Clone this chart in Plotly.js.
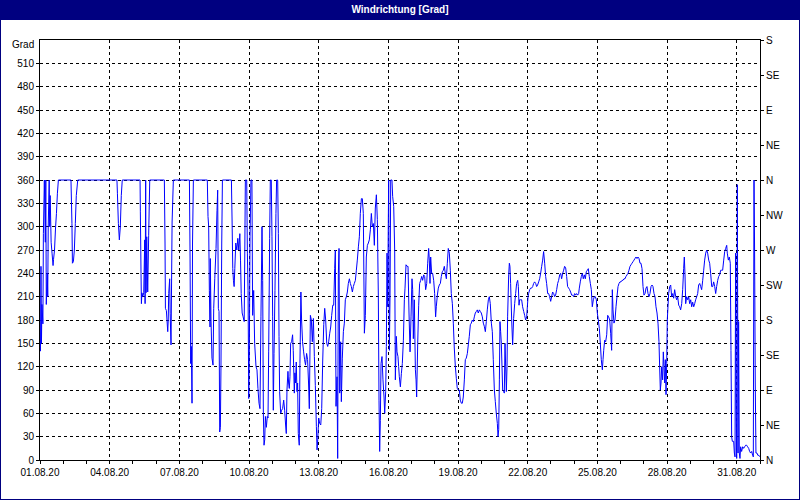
<!DOCTYPE html>
<html><head><meta charset="utf-8">
<script src="https://cdn.plot.ly/plotly-3.0.1.min.js"></script>
<style>
html,body{margin:0;padding:0;background:#fff;}
#wrap{position:relative;width:800px;height:500px;}
#chart{position:absolute;left:0;top:0;width:800px;height:500px;}
#frame{position:absolute;left:0;top:0;width:800px;height:500px;box-sizing:border-box;border:1px solid #000080;pointer-events:none;}
</style></head>
<body><div id="wrap"><div id="chart"></div><div id="frame"></div></div>
<script>
// hours since 01.08.2020 00:00 and wind direction in degrees
const hoursA = [0,0.5,1,1.5,2,3,3.5,4.5,5.5,6,6.5,7.5,8,8.5,9.5,10,10.5,11.5,12.5,13.5,14,15,16,17,18,19,32,33,33.5,34.5,35.5,36.5,37.5,39,79.5,80,81,82,83,84,85];
const degA   = [150,140,249,150,200,175,291,360,280,360,200,240,210,300,360,300,340,280,265,250,258,270,297,317,343,360,360,304,253,255,270,304,340,360,360,343,304,283,300,340,360];

const hoursB = [103.4,103.7,104.4,104.8,105.3,106.2,107.2,108.2,108.6,109.2,109.6,110.3,111.3,112.3,113.4,128.5,129.2,129.6,130.6,132,132.5,133,134,134.5,135.4,136.5,137.8,154.4,155,155.7,156.4,157.1,157.6,158.5,172.9,173.6,174.3,175,175.7,176,176.7,177.7,178.8,179.5,180.6,181.9,182.9,183.6,184.3];
const degB   = [360,319,240,201,215,210,215,283,201,360,215,287,216,289,360,360,279,195,192,165,180,214,233,188,148,306,360,360,270,124,146,73,279,360,360,313,300,218,171,259,180,131,122,195,233,272,321,347,195];

const hoursC = [185,185.7,186.4,187,187.8,188.5,197.8,198.5,199.2,199.9,
  200.6,201.3,202.3,203.4,204.4,205.4,206.5,207.2,207.9,208.9,
  209.9,211,211.7,212.2,213.6,214.3,215,215.7,216.4,217,
  218,219,219.7,220.8,221.8,223.2,224.2,225.2,226.3,227.3,
  228.3,229.4,230.1,230.8,231.5,232.2,232.9,233.9,234.9,235.6,
  236.3,237.3,238,239,239.7,240.4,241.1,241.8,242.8,243.8,
  244.5,245.6,246.3,247,247.6,248.7,249.7,250.7,251.8,252.8,
  253.8,254.5,255.2,256.2,256.9,257.6,258.3,259,260,261,
  261.7,262.8,263.4,264.1,264.8,265.5,266.2,266.9,267.9,268.6,
  269.6,270.3,271.3,272.4,273.4,274.4,275.5,276.5,277.5];
const degC = [191,36,42,120,279,360,360,306,246,231,
  223,246,279,270,285,270,291,257,214,189,
  184,178,279,360,360,266,218,79,150,287,
  360,360,186,218,150,120,116,92,73,66,
  184,300,231,60,19,26,56,42,56,54,
  139,285,360,360,287,184,64,137,218,317,
  360,360,291,159,88,60,64,66,77,64,
  45,34,90,114,99,92,107,150,152,161,
  141,86,112,99,126,88,99,34,19,124,
  216,180,152,139,129,122,137,129,99];

const hoursD = [278.3,279.4,280.4,281.4,282.5,283.5,284.5,285.6,286.3,287,
  288,289,290.1,291.1,292.1,293.2,294.2,295.2,296.3,297.3,
  298.3,299.4,300.4,301.4,302.5,303.5,304.5,305.2,305.9,306.9,
  307.6,308.3,309,309.7,310.7,311.4,312.4,313.5,314.5,315.5,
  316.6,317.6,318.6,319.7,320.7,321.7,322.8,323.8,324.8,325.9,
  326.9,327.9,329,330,331,332.1,333.1,334.1,335.2,336.2,
  337.2,338.3,339.3,340.3,341.4,342.4,343.4,344.5,345.5,346.5,
  347.6,348.6,349.6,350.3,351,351.7,352.4,353.4,354.4,355.5,
  356.2,357.2,357.9,358.6,359.3,359.9,360.3,361,361.7,362.4,
  363.7,364.4,365.5,366.5,367.2,368.2,368.9,369.9,370.6];
const degD = [66,186,180,152,182,133,96,43,13,26,
  54,47,45,66,126,174,195,180,150,146,
  152,163,171,186,199,199,246,270,69,107,
  2,240,272,86,152,75,131,165,176,206,
  210,216,227,233,227,223,216,223,227,231,
  244,257,274,287,317,336,336,317,163,186,
  261,276,279,283,296,317,300,304,276,324,
  341,309,212,77,11,51,124,133,103,81,
  60,88,146,266,197,304,360,141,210,360,
  360,339,326,270,103,159,139,133,120];

const hoursE = [371.3,372.4,373.4,374.4,375.5,376.5,377.2,378.2,379.3,380.3,
  381.3,382.4,383.4,384.4,385.1,385.8,386.8,387.9,388.6,389.2,
  390.3,391.3,392.3,393.4,394.4,395.4,396.5,397.5,398.5,399.6,
  400.6,401.6,402.3,403,403.7,404.7,405.7,406.8,407.8,408.8,
  409.5,410.6,411.6,412.6,413.7,414.7,415.7,416.8,417.8,418.8,
  419.9,420.9,421.9,423,424,425,426.1,427.1,428.1,429.2,
  430.2,431.2,432.3,433.3,434.3,435.4,436.4,437.4,438.5,439.5,
  440.5,441.6,442.6,443.6,444.7,445.7,446.7,447.8,448.8,449.8,
  450.9,451.9,452.9,454,455,456,457.1,458.1,459.1,460.2,
  461.2,462.2,463.3,464.3];
const degE = [107,94,111,124,154,206,221,251,249,249,
  189,139,184,233,219,156,206,116,103,81,
  150,199,227,231,236,231,238,236,219,227,
  253,272,257,227,261,240,240,231,214,184,
  197,212,221,225,227,236,242,244,249,240,
  233,253,272,266,244,214,201,176,144,120,
  105,92,90,90,77,73,73,81,103,129,
  131,137,148,159,174,176,180,178,184,189,
  191,193,189,193,191,189,184,176,172,165,
  178,193,206,210];

const hoursF = [465.3,466.4,467.4,468.4,469.5,470.5,471.5,472.6,473.3,474,
  474.7,475.3,476,476.7,477.4,478.1,479.1,479.8,480.5,481.2,
  481.9,482.6,483.2,484.3,485,485.6,486.3,487.4,488.4,489.4,
  490.5,491.5,492.5,493.6,494.3,495,495.6,496.7,497.7,498.7,
  499.8,500.8,501.8,502.9,503.6,504.3,504.9,506,507,508,
  509.1,510.1,511.1,512.2,513.2,514.2,515.3,516.3,517.3,518.4,
  519.4,520.4,521.5,522.5,523.5,524.6,525.6,526.6,527.7,528.7,
  529.7,530.8,531.8,532.8,533.9,534.9,535.9,537,538,539,
  540.1,541.1,542.1,543.2,544.2,545.2,546.3,547.3,548.3,549.4,
  550.4,551.4,552.5,553.5,554.5,555.6,556.6];
const degF = [201,176,165,129,90,75,60,47,30,39,
  103,178,165,150,120,90,88,86,150,120,
  88,120,184,238,253,249,227,180,148,182,
  201,214,227,231,223,199,206,206,206,197,
  191,186,180,184,197,210,214,219,221,221,
  223,227,229,227,223,225,229,233,240,249,
  257,268,253,236,227,214,214,210,204,210,
  216,214,210,212,219,227,231,238,240,233,
  240,244,249,247,236,223,221,219,216,212,
  212,210,214,212,214,212,214];

const hoursG = [557.3,558.3,559.4,560.4,561.4,562.5,563.5,564.5,565.6,566.6,
  567.6,568.7,569.7,570.7,571.8,572.8,573.8,574.9,575.9,576.9,
  578,579,580,581.1,581.8,582.5,583.5,584.5,585.6,586.6,
  587.6,588.7,589.7,590.7,591.4,592.1,593.1,594.2,595.2,596.2,
  597.3,598.3,599.3,600.4,601.4,602.4,603.5,604.5,605.5,606.6,
  607.6,608.6,609.7,610.7,611.7,612.8,613.8,614.8,615.9,616.9,
  617.9,619,620,621,622.1,623.1,624.1,625.2,626.2,627.2,
  628.3,629.3,630.3,631.4,632.4,633.4,634.5,635.5,636.5,637.6,
  638.6,639.6,640.3,641,641.7,642.4,643.4,644.1,644.8,645.5,
  646.2,646.9,647.6,648.2];
const degG = [221,229,236,240,233,238,233,242,244,246,
  236,227,219,197,206,210,210,206,189,180,
  169,150,129,116,129,141,154,152,161,186,
  184,180,163,141,219,193,176,180,197,210,
  223,227,229,229,231,231,233,233,236,238,
  240,244,249,251,253,255,257,259,261,259,
  261,259,253,253,246,223,212,214,221,223,
  214,210,214,223,225,223,214,210,197,189,
  176,152,120,90,99,120,103,139,120,99,
  129,84,124,180];

const hoursH = [649.6,650.7,651.7,652.7,653.8,654.8,655.8,656.9,657.9,658.9,
  660,661,662,663.1,664.1,665.1,665.8,666.5,667.2,668.2,
  669.3,670.3,671.3,672.4,673.4,674.4,675.5,676.5,677.5,678.6,
  679.6,680.6,681.7,682.7,683.7,684.8,685.8,686.8,687.9,688.9,
  689.9,691,692,693,694.1,695.1,696.1,697.2,698.2,699.2,
  700.3,701.3,702.3,703.4,704.4,705.4,706.5,707.5,708.5,709.6,
  710.2,711.3,712.3,713.3,714,714.7,715.4,716.1,716.8,717.5,
  718.2,718.8,719.2,719.9,720.6,721.3,721.9,722.6,723.3,724,
  725,726.1,727.1,728.1,729.2,730.2,731.2,732.3,733.3,734.3,
  735.4,736.4,737.1,737.8,738.4,739.1,739.8,740.8,741.8,742.9,
  744];
const degH = [214,223,225,210,214,208,219,210,206,210,
  199,197,193,201,219,246,261,238,201,210,
  206,210,201,206,197,203,197,201,206,210,
  214,225,227,223,219,231,244,257,266,270,
  266,257,253,240,223,223,229,223,214,223,
  231,236,238,244,244,244,257,268,272,276,
  266,257,261,253,141,30,24,24,24,9,
  4,266,90,2,354,9,178,9,2,17,
  11,17,15,17,19,19,17,15,11,9,
  11,6,4,360,270,99,9,9,6,6,
  4];

const leftTickVals = [0,30,60,90,120,150,180,210,240,270,300,330,360,390,420,450,480,510];
const rightTickVals = [0,45,90,135,180,225,270,315,360,405,450,495,540];
const rightTickText = ['N','NE','E','SE','S','SW','W','NW','N','NE','E','SE','S'];
const chartTitle = 'Windrichtung [Grad]';
const unitLabel = 'Grad';

const hours = [].concat(hoursA,hoursB,hoursC,hoursD,hoursE,hoursF,hoursG,hoursH);
const degrees = [].concat(degA,degB,degC,degD,degE,degF,degG,degH);

const base = Date.UTC(2020,7,1);
function toStr(h){
  return new Date(base + h*3600000).toISOString().slice(0,19).replace('T',' ');
}
const xs = hours.map(toStr);

const font = {family:'Liberation Sans, Arial, sans-serif', size:10, color:'#000'};
const DAY = 86400000;

const traces = [
  {x: xs, y: degrees, type:'scatter', mode:'lines', line:{color:'#0000ff', width:1, simplify:false}, hoverinfo:'x+y', showlegend:false},
  {x: [toStr(0)], y: [0], yaxis:'y2', type:'scatter', mode:'markers', marker:{opacity:0}, hoverinfo:'skip', showlegend:false}
];

const layout = {
  width:800, height:500,
  margin:{l:40, r:40, t:40, b:40, pad:0},
  paper_bgcolor:'#fff', plot_bgcolor:'#fff',
  font: font,
  showlegend:false,
  title:{text:'<b>'+chartTitle+'</b>', font:{family:'Liberation Sans, Arial, sans-serif', size:10, color:'#fff'},
         x:0.5, xanchor:'center', xref:'container', y:1-9.5/500, yanchor:'middle', yref:'container'},
  xaxis:{type:'date', range:['2020-08-01 00:00:00','2020-09-01 00:00:00'],
         tick0:'2020-08-01', dtick:3*DAY, tickformat:'%d.%m.%y',
         showgrid:true, gridcolor:'#000', griddash:'dot', gridwidth:1,
         showline:true, linecolor:'#000', linewidth:1, mirror:true,
         ticks:'outside', ticklen:3, tickcolor:'#000', tickfont:font, zeroline:false,
         minor:{dtick:DAY, ticks:'outside', ticklen:3, tickcolor:'#000', showgrid:false}},
  yaxis:{range:[0,540], tickmode:'array', tickvals:leftTickVals,
         showgrid:true, gridcolor:'#000', griddash:'dot', gridwidth:1,
         showline:true, linecolor:'#000', linewidth:1,
         ticks:'outside', ticklen:3, tickcolor:'#000', tickfont:font, zeroline:false},
  yaxis2:{range:[0,540], overlaying:'y', side:'right', tickmode:'array', tickvals:rightTickVals, ticktext:rightTickText,
          showgrid:false, showline:true, linecolor:'#000', linewidth:1,
          ticks:'outside', ticklen:3, tickcolor:'#000', tickfont:font, zeroline:false},
  shapes:[{type:'rect', xref:'paper', yref:'paper', x0:-40/720, x1:760/720, y0:440/420, y1:460/420,
           fillcolor:'#000080', line:{width:0}, layer:'below'}],
  annotations:[{xref:'paper', yref:'paper', x:0, y:1, xanchor:'right', yanchor:'middle', xshift:-4, yshift:-4,
                text:unitLabel, showarrow:false, font:font}]
};

Plotly.newPlot('chart', traces, layout, {staticPlot:true, displayModeBar:false});
</script>
</body></html>
